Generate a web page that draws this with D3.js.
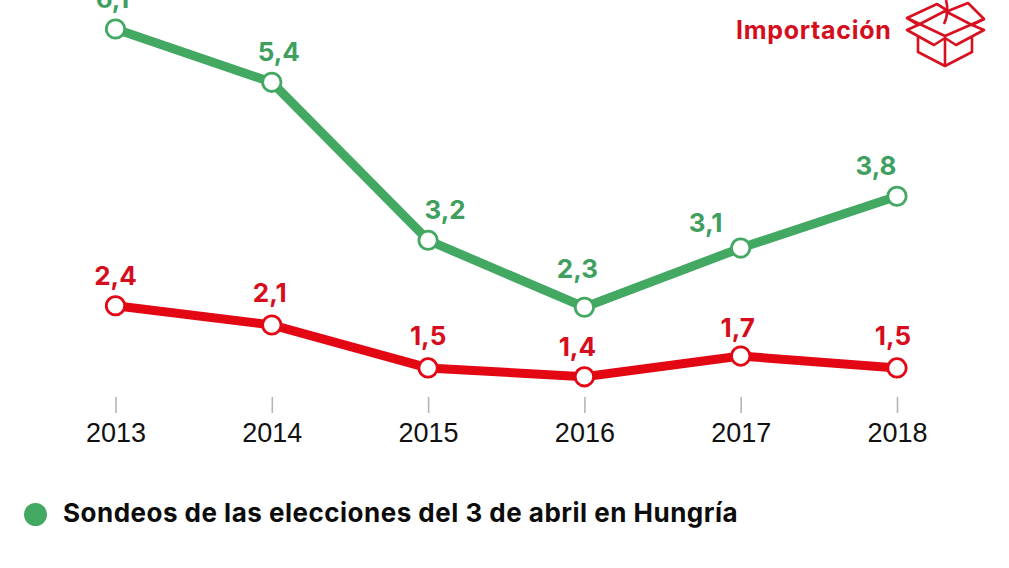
<!DOCTYPE html>
<html><head><meta charset="utf-8">
<script src="https://cdn.jsdelivr.net/npm/d3@7"></script>
<style>html,body{margin:0;padding:0;background:#fff}svg{display:block}</style>
</head><body><svg id="c" width="1009" height="568"></svg>
<script>
const years = [2013, 2014, 2015, 2016, 2017, 2018];
const greenValues = [6.1, 5.38, 3.245, 2.34, 3.14, 3.84];
const redValues = [2.36, 2.1, 1.52, 1.4, 1.68, 1.52];
const labelDx = {green:[-3,7,17,-7,-35,-21], red:[0,-2,0,-7,-3,-4]};
const labelDy = {green:[-21,-21,-21,-29,-16,-21], red:[-21,-23,-23,-21,-19,-23]};
const legendLabel = "Sondeos de las elecciones del 3 de abril en Hungría";
const titleLabel = "Importación";
const GREEN="#42a862", GREENT="#3f9f5f", RED="#e30613", REDT="#d60d1c";
const svg=d3.select("#c");
const x=d3.scaleLinear().domain([2013,2018]).range([115.5,897]);
const y=d3.scaleLinear().domain([0,6.1]).range([480.4,29]);
const fmt=v=>v.toFixed(1).replace(".",",");
const axis=d3.axisBottom(x).tickValues(years).tickFormat(d3.format("d")).tickSize(16).tickPadding(10);
const ax=svg.append("g").attr("transform","translate(0,397)").call(axis);
ax.select(".domain").remove();
ax.selectAll("line").attr("stroke","#b5b5b5").attr("stroke-width",1.6);
ax.selectAll("text").attr("font-family","'Liberation Sans',sans-serif").attr("font-size",27).attr("fill","#111");
const line=d3.line().x((d,i)=>x(years[i])).y(d=>y(d));
function series(vals,col,tcol,key){
  const g=svg.append("g");
  g.append("path").datum(vals).attr("d",line).attr("fill","none").attr("stroke",col).attr("stroke-width",9);
  g.selectAll("circle").data(vals).join("circle").attr("cx",(d,i)=>x(years[i])).attr("cy",d=>y(d)).attr("r",9.2)
    .attr("fill","#fff").attr("stroke",col).attr("stroke-width",2.8);
  g.selectAll("text").data(vals).join("text").attr("x",(d,i)=>x(years[i])+labelDx[key][i]).attr("y",(d,i)=>y(d)+labelDy[key][i])
    .attr("text-anchor","middle").attr("font-family","Inter,sans-serif").attr("font-weight",700).attr("font-size",26)
    .attr("fill",tcol).text(fmt);
}
series(greenValues,GREEN,GREENT,"green");
series(redValues,RED,REDT,"red");
svg.append("text").attr("x",736).attr("y",39).attr("font-family","Inter,sans-serif").attr("font-weight",700).attr("font-size",25).attr("letter-spacing",0.7).attr("fill",REDT).text(titleLabel);
svg.append("g").attr("fill","none").attr("stroke","#d8101f").attr("stroke-width",2.6).attr("stroke-linejoin","round")
 .selectAll("path").data([
 "M907 18L937 4L948 11L968 3L984 19L945 36Z",
 "M907 18L918 25L945 11M984 19L972 25L945 11",
 "M918 25L907 30L934 45L945 38L956 45L984 30L972 25",
 "M918 36V52L945 66L972 52V36",
 "M945 38V66",
 "M944 24C948 16 948 8 946 0M937 4L948 11"
 ]).join("path").attr("d",d=>d);
svg.append("circle").attr("cx",35.5).attr("cy",514.5).attr("r",11.5).attr("fill",GREEN);
svg.append("text").attr("x",63).attr("y",522).attr("font-family","Inter,sans-serif").attr("font-weight",700).attr("font-size",26).attr("letter-spacing",0.49).attr("fill","#0c0c0c").text(legendLabel);
</script></body></html>
